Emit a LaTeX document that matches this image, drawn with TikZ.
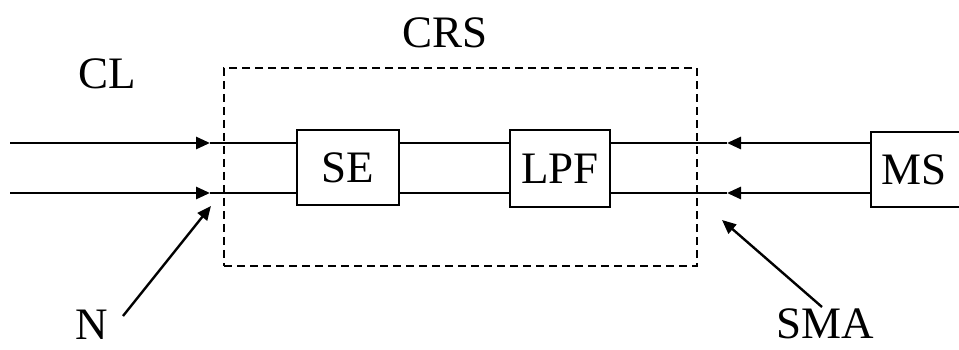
\documentclass[tikz,border=0pt]{standalone}
\usepackage{fontspec}
\setmainfont{Liberation Serif}
\usetikzlibrary{arrows.meta}
\begin{document}
\begin{tikzpicture}[x=1pt, y=-1pt, line width=2.8pt,
    font=\fontsize{45}{50}\selectfont,
    >={Triangle[length=14pt,width=12pt]},
    blockbox/.style={draw, line width=2.6pt, inner sep=0pt, minimum height=75pt},
    zonebox/.style={draw, line width=2.6pt, dash pattern=on 8pt off 5pt, inner sep=0pt}]
    \useasboundingbox (0,0) rectangle (959,350);

    % blocks
    \node[blockbox, minimum width=102pt] (SE) at (348,167.5) {SE};
    \node[blockbox, minimum width=100pt, minimum height=77pt] (LPF) at (560,168.5) {LPF};
    \node[blockbox, minimum width=100pt] (MS) at (921,169.5) {\hspace*{-14pt}MS};
    \node[zonebox, minimum width=473pt, minimum height=198pt] (CRS) at (460.5,167) {};

    % labels
    \node (crsLabel) at (445,33) {CRS};
    \node (clLabel) at (107,74) {CL};
    \node (nLabel) at (92,325) {N};
    \node (smaLabel) at (825,324) {SMA};

    % line ends and arrow points
    \coordinate (inA) at (10,143);
    \coordinate (inB) at (10,193);
    \coordinate (tipA) at (210,143);
    \coordinate (tipB) at (210,193);
    \coordinate (rtA) at (727,143);
    \coordinate (rtB) at (727,193);

    \draw[->] (inA) -- (tipA);
    \draw[->] (inB) -- (tipB);
    \draw (tipA) -- (tipA -| SE.west);
    \draw (tipB) -- (tipB -| SE.west);
    \draw (SE.east |- tipA) -- (LPF.west |- tipA);
    \draw (SE.east |- tipB) -- (LPF.west |- tipB);
    \draw (LPF.east |- tipA) -- (rtA);
    \draw (LPF.east |- tipB) -- (rtB);
    \draw[->] (MS.west |- rtA) -- (rtA);
    \draw[->] (MS.west |- rtB) -- (rtB);

    % pointers
    \coordinate (nTail) at (123,316);
    \coordinate (nTip) at (211,206);
    \coordinate (smaTail) at (822,307);
    \coordinate (smaTip) at (722,220);
    \draw[->, line width=2.4pt] (nTail) -- (nTip);
    \draw[->, line width=2.4pt] (smaTail) -- (smaTip);
\end{tikzpicture}
\end{document}
